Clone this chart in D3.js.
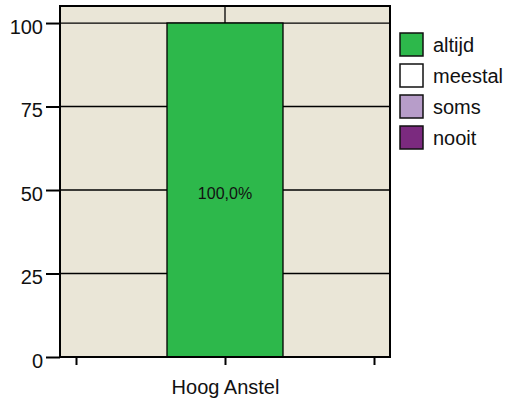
<!DOCTYPE html>
<html>
<head>
<meta charset="utf-8">
<script src="https://cdn.jsdelivr.net/npm/d3@7"></script>
<style>
  html, body { margin: 0; padding: 0; background: #ffffff; }
  svg { display: block; font-family: "Liberation Sans", Arial, Helvetica, sans-serif; }
</style>
</head>
<body>
<svg id="chart" width="510" height="403"></svg>
<script>
// Stacked percentage bar for one location
const categories = ["Hoog Anstel"];
const seriesNames = ["altijd", "meestal", "soms", "nooit"];
const seriesColors = ["#2db84b", "#ffffff", "#b79dc9", "#7b2a7f"];
const altijd = [100.0];
const meestal = [0];
const soms = [0];
const nooit = [0];
const yTicks = [0, 25, 50, 75, 100];

const svg = d3.select("#chart");
const plot = { left: 60, top: 6, right: 390, bottom: 357 };

const y = d3.scaleLinear().domain([0, 105.1]).range([plot.bottom, plot.top]);
// three slots: an empty slot either side of the category
const slots = ["_l", ...categories, "_r"];
const x = d3.scalePoint().domain(slots).range([76, 374]);
const barWidth = 116;

// background
svg.append("rect")
  .attr("x", plot.left).attr("y", plot.top)
  .attr("width", plot.right - plot.left).attr("height", plot.bottom - plot.top)
  .attr("fill", "#eae6d7");

// horizontal grid lines
svg.append("g").selectAll("line").data(yTicks.filter(d => d > 0)).join("line")
  .attr("x1", plot.left).attr("x2", plot.right)
  .attr("y1", d => y(d)).attr("y2", d => y(d))
  .attr("stroke", "#000").attr("stroke-width", 1.3);

// vertical divider above the top of the scale
svg.append("line")
  .attr("x1", x(categories[0])).attr("x2", x(categories[0]))
  .attr("y1", plot.top).attr("y2", y(100))
  .attr("stroke", "#000").attr("stroke-width", 1.3);

// stacked bars
const rows = categories.map((c, i) => ({
  cat: c, altijd: altijd[i], meestal: meestal[i], soms: soms[i], nooit: nooit[i]
}));
const stack = d3.stack().keys(seriesNames)(rows);
stack.forEach((layer, k) => {
  svg.append("g").selectAll("rect").data(layer.filter(d => d[1] - d[0] > 0)).join("rect")
    .attr("x", d => x(d.data.cat) - barWidth / 2)
    .attr("width", barWidth)
    .attr("y", d => y(d[1]))
    .attr("height", d => y(d[0]) - y(d[1]))
    .attr("fill", seriesColors[k])
    .attr("stroke", "#000").attr("stroke-width", 1.3);
  svg.append("g").selectAll("text").data(layer.filter(d => d[1] - d[0] > 0)).join("text")
    .attr("x", d => x(d.data.cat))
    .attr("y", d => y((d[0] + d[1]) / 2) + 3)
    .attr("dy", "0.35em")
    .attr("text-anchor", "middle")
    .attr("font-size", 16)
    .attr("fill", "#111")
    .text(d => d3.format(".1f")(d[1] - d[0]).replace(".", ",") + "%");
});

// frame
svg.append("rect")
  .attr("x", plot.left).attr("y", plot.top)
  .attr("width", plot.right - plot.left).attr("height", plot.bottom - plot.top)
  .attr("fill", "none").attr("stroke", "#000").attr("stroke-width", 2);

// y axis
const yAxis = svg.append("g")
  .attr("transform", `translate(${plot.left},0)`)
  .call(d3.axisLeft(y).tickValues(yTicks).tickSize(14).tickPadding(3));
yAxis.select(".domain").remove();
yAxis.selectAll(".tick line").attr("stroke", "#000").attr("stroke-width", 2);
yAxis.selectAll(".tick text").attr("font-size", 20).attr("fill", "#111")
  .attr("dy", "0.52em")
  .attr("font-family", "Liberation Sans, Arial, sans-serif");

// x axis
const xAxis = svg.append("g")
  .attr("transform", `translate(0,${plot.bottom})`)
  .call(d3.axisBottom(x).tickSize(8).tickPadding(15)
    .tickFormat(d => categories.includes(d) ? d : ""));
xAxis.select(".domain").remove();
xAxis.selectAll(".tick line").attr("stroke", "#000").attr("stroke-width", 2);
xAxis.selectAll(".tick text").attr("font-size", 20).attr("fill", "#111")
  .attr("font-family", "Liberation Sans, Arial, sans-serif");

// legend
const legend = svg.append("g").attr("transform", "translate(400,33)");
const item = legend.selectAll("g").data(seriesNames).join("g")
  .attr("transform", (d, i) => `translate(0,${i * 31})`);
item.append("rect")
  .attr("width", 23).attr("height", 23)
  .attr("fill", (d, i) => seriesColors[i])
  .attr("stroke", "#111").attr("stroke-width", 1.5);
item.append("text")
  .attr("x", 33).attr("y", 12).attr("dy", "0.35em")
  .attr("font-size", 20).attr("fill", "#111")
  .text(d => d);
</script>
</body>
</html>
